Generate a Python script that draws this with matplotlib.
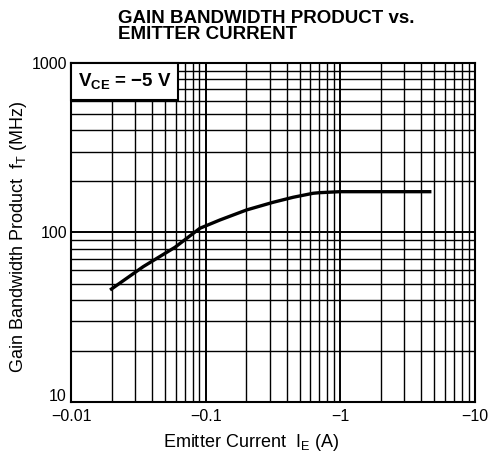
import numpy as np
import matplotlib
matplotlib.use('Agg')
import matplotlib.pyplot as plt
import matplotlib.patches as mpatches
from matplotlib.transforms import ScaledTranslation

# |I_E| in A (plotted as magnitude on log axis, labelled negative)
ie_mag = [0.0195, 0.0344, 0.0592, 0.0907, 0.1277, 0.2015, 0.3177, 0.447,
          0.629, 0.706, 0.99, 4.76]
ft_mhz = [45.8, 62.9, 81.8, 105.9, 118.5, 135.8, 150.7, 161.3,
          170.3, 171.7, 174, 174]

x_ticks = [0.01, 0.1, 1, 10]
x_ticklabels = ['\u22120.01', '\u22120.1', '\u22121', '\u221210']
y_ticks = [10, 100, 1000]
y_ticklabels = ['10', '100', '1000']

plt.rcParams['font.family'] = ['Liberation Sans', 'DejaVu Sans']

fig = plt.figure(figsize=(4.9, 4.59), dpi=100)
ax = fig.add_axes([0.145, 0.124, 0.824, 0.739])

ax.set_xscale('log')
ax.set_yscale('log')
ax.set_xlim(0.01, 10)
ax.set_ylim(10, 1000)

ax.grid(True, which='major', color='black', linewidth=1.4)
ax.grid(True, which='minor', color='black', linewidth=1.0)
ax.set_axisbelow(True)

ax.plot(ie_mag, ft_mhz, color='black', linewidth=2.4, solid_capstyle='butt',
        solid_joinstyle='round', zorder=3)

ax.set_xticks(x_ticks)
ax.set_xticklabels(x_ticklabels, fontsize=11.5)
ax.set_yticks(y_ticks)
ax.set_yticklabels(y_ticklabels, fontsize=11.5)
ax.tick_params(which='both', length=0, pad=3)
ax.tick_params(axis='x', pad=5)
for s in ax.spines.values():
    s.set_linewidth(1.5)

# lift the bottom "10" a little so it clears "-0.01"
lbl10 = ax.get_yticklabels()[0]
lbl10.set_transform(lbl10.get_transform() + ScaledTranslation(0, 5 / 72, fig.dpi_scale_trans))

# condition box
box = mpatches.Rectangle((0, 0.891), 0.265, 0.109, transform=ax.transAxes,
                         facecolor='white', edgecolor='black', linewidth=1.5,
                         zorder=4, clip_on=False)
ax.add_patch(box)
ax.text(0.133, 0.945, 'V$_\\mathregular{CE}$ = \u22125 V',
        transform=ax.transAxes, ha='center', va='center',
        fontsize=13.5, fontweight='bold', zorder=5)

ax.set_xlabel('Emitter Current  I$_\\mathregular{E}$ (A)', fontsize=13)
ax.xaxis.set_label_coords(0.446, -0.088)
ax.set_ylabel('Gain Bandwidth Product  f$_\\mathregular{T}$ (MHz)', fontsize=13)
ax.yaxis.set_label_coords(-0.105, 0.487)

fig.text(118 / 490, 1 - 10 / 459,
         'GAIN BANDWIDTH PRODUCT vs.\nEMITTER CURRENT',
         ha='left', va='top', fontsize=13.5, fontweight='bold', linespacing=0.95)

plt.savefig('out.png', dpi=100)
plt.close()
